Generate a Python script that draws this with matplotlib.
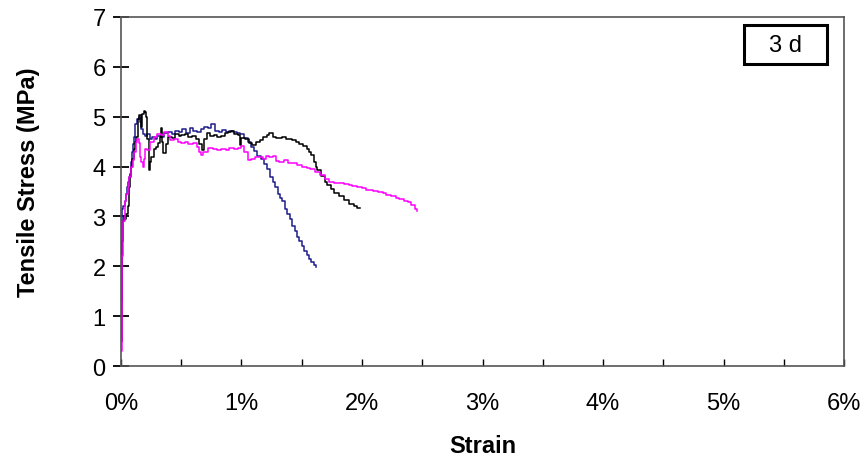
import matplotlib
matplotlib.use("Agg")
import matplotlib.pyplot as plt
from matplotlib.patches import Rectangle
from matplotlib.ticker import MultipleLocator, PercentFormatter

# strain in %, stress in MPa
blue_strain = [0.000, 0.005, 0.010, 0.020, 0.030, 0.040, 0.050, 0.060, 0.070, 0.080,
               0.090, 0.100, 0.110, 0.120, 0.135, 0.150, 0.160, 0.170, 0.180, 0.200,
               0.220, 0.240, 0.260, 0.280, 0.300, 0.330, 0.360, 0.390, 0.420, 0.450,
               0.480, 0.510, 0.540, 0.570, 0.600, 0.630, 0.660, 0.690, 0.720, 0.750,
               0.780, 0.810, 0.840, 0.870, 0.900, 0.930, 0.960, 0.990, 1.020, 1.050,
               1.080, 1.100, 1.130, 1.160, 1.190, 1.210, 1.240, 1.260, 1.280, 1.300,
               1.320, 1.340, 1.360, 1.380, 1.400, 1.420, 1.440, 1.460, 1.480, 1.500,
               1.520, 1.540, 1.560, 1.580, 1.600, 1.620]
blue_stress = [1.30, 2.60, 3.15, 3.20, 3.30, 3.45, 3.60, 3.70, 3.80, 4.10,
               4.30, 4.45, 4.60, 4.85, 4.95, 5.00, 4.90, 4.75, 4.65, 4.62,
               4.65, 4.55, 4.60, 4.55, 4.62, 4.60, 4.68, 4.70, 4.65, 4.72,
               4.70, 4.75, 4.68, 4.77, 4.72, 4.70, 4.75, 4.80, 4.78, 4.85,
               4.72, 4.70, 4.74, 4.70, 4.72, 4.70, 4.68, 4.65, 4.58, 4.50,
               4.40, 4.32, 4.22, 4.15, 4.05, 3.95, 3.80, 3.70, 3.60, 3.45,
               3.36, 3.30, 3.15, 3.05, 2.95, 2.80, 2.70, 2.58, 2.50, 2.40,
               2.30, 2.22, 2.15, 2.08, 2.03, 1.99]

black_strain = [0.005, 0.008, 0.012, 0.018, 0.025, 0.035, 0.045, 0.055, 0.065, 0.075,
                0.085, 0.095, 0.105, 0.115, 0.125, 0.140, 0.150, 0.165, 0.175, 0.190,
                0.200, 0.210, 0.220, 0.230, 0.240, 0.250, 0.270, 0.290, 0.310, 0.320,
                0.330, 0.340, 0.350, 0.370, 0.390, 0.420, 0.450, 0.480, 0.500, 0.530,
                0.560, 0.590, 0.620, 0.650, 0.670, 0.690, 0.710, 0.740, 0.770, 0.800,
                0.830, 0.860, 0.890, 0.910, 0.940, 0.970, 0.985, 1.000, 1.030, 1.060,
                1.090, 1.120, 1.150, 1.180, 1.210, 1.230, 1.260, 1.290, 1.310, 1.340,
                1.370, 1.400, 1.420, 1.450, 1.480, 1.510, 1.540, 1.560, 1.580, 1.600,
                1.620, 1.630, 1.660, 1.690, 1.710, 1.740, 1.770, 1.810, 1.850, 1.890,
                1.930, 1.960, 1.980]
black_stress = [0.50, 1.50, 2.50, 2.90, 3.00, 2.95, 3.05, 3.20, 3.60, 3.85,
                4.00, 4.15, 4.35, 4.50, 4.60, 4.95, 5.04, 4.80, 5.05, 5.12,
                5.10, 5.00, 4.55, 3.94, 4.10, 4.20, 4.35, 4.40, 4.47, 4.60,
                4.78, 4.50, 4.28, 4.45, 4.60, 4.58, 4.65, 4.62, 4.63, 4.66,
                4.60, 4.62, 4.55, 4.45, 4.34, 4.55, 4.67, 4.62, 4.64, 4.60,
                4.62, 4.68, 4.70, 4.72, 4.65, 4.63, 4.43, 4.58, 4.55, 4.48,
                4.44, 4.50, 4.54, 4.60, 4.64, 4.67, 4.60, 4.58, 4.57, 4.60,
                4.56, 4.55, 4.54, 4.50, 4.45, 4.41, 4.35, 4.30, 4.24, 4.10,
                4.00, 3.94, 3.82, 3.70, 3.64, 3.55, 3.48, 3.41, 3.32, 3.24,
                3.20, 3.17, 3.17]

pink_strain = [0.000, 0.005, 0.010, 0.020, 0.030, 0.040, 0.055, 0.070, 0.085, 0.100,
               0.110, 0.124, 0.135, 0.150, 0.160, 0.170, 0.180, 0.190, 0.200, 0.220,
               0.240, 0.270, 0.300, 0.330, 0.360, 0.390, 0.410, 0.440, 0.470, 0.500,
               0.530, 0.560, 0.600, 0.630, 0.650, 0.660, 0.680, 0.720, 0.760, 0.800,
               0.830, 0.870, 0.900, 0.940, 0.970, 1.000, 1.020, 1.050, 1.080, 1.110,
               1.150, 1.180, 1.200, 1.230, 1.260, 1.290, 1.310, 1.350, 1.390, 1.420,
               1.460, 1.500, 1.540, 1.570, 1.610, 1.650, 1.690, 1.730, 1.770, 1.810,
               1.850, 1.890, 1.920, 1.960, 2.000, 2.030, 2.060, 2.090, 2.130, 2.170,
               2.200, 2.240, 2.280, 2.310, 2.350, 2.380, 2.410, 2.440, 2.460]
pink_stress = [0.30, 1.20, 2.20, 2.90, 3.30, 3.45, 3.60, 3.80, 4.00, 4.13,
               4.30, 4.50, 4.55, 4.47, 4.20, 4.10, 4.00, 4.15, 4.35, 4.33,
               4.50, 4.60, 4.65, 4.63, 4.70, 4.62, 4.53, 4.55, 4.50, 4.47,
               4.50, 4.45, 4.47, 4.40, 4.30, 4.24, 4.30, 4.37, 4.35, 4.33,
               4.35, 4.34, 4.38, 4.35, 4.37, 4.41, 4.30, 4.14, 4.15, 4.20,
               4.20, 4.15, 4.22, 4.20, 4.22, 4.12, 4.10, 4.13, 4.08, 4.07,
               4.03, 4.00, 3.97, 3.95, 3.90, 3.84, 3.75, 3.70, 3.67, 3.67,
               3.66, 3.64, 3.62, 3.60, 3.57, 3.54, 3.54, 3.52, 3.50, 3.47,
               3.43, 3.40, 3.37, 3.35, 3.31, 3.28, 3.22, 3.15, 3.11]

plt.rcParams['font.family'] = ['Liberation Sans', 'DejaVu Sans']

fig = plt.figure(figsize=(8.64, 4.6), dpi=100)
ax = fig.add_axes([0.140, 0.202, 0.837, 0.759])

ax.plot(blue_strain, blue_stress, color='#1c1c8a', lw=1.1, drawstyle='steps-post')
ax.plot(black_strain, black_stress, color='black', lw=1.1, drawstyle='steps-post')
ax.plot(pink_strain, pink_stress, color='#ff00ff', lw=1.1, drawstyle='steps-post')

ax.set_xlim(0, 6)
ax.set_ylim(0, 7)
ax.xaxis.set_major_locator(MultipleLocator(1))
ax.xaxis.set_minor_locator(MultipleLocator(0.5))
ax.yaxis.set_major_locator(MultipleLocator(1))
ax.xaxis.set_major_formatter(PercentFormatter(xmax=100, decimals=0))

ax.tick_params(axis='x', which='both', direction='in', length=5, width=1,
               labelsize=17, pad=19, colors='black')
ax.tick_params(axis='y', direction='inout', length=12, width=1.3,
               labelsize=17, pad=5)
for s in ax.spines.values():
    s.set_color('#555555')
    s.set_linewidth(1.2)

ax.set_xlabel('Strain', fontsize=17, fontweight='bold', labelpad=14)
ax.set_ylabel('Tensile Stress (MPa)', fontsize=17, fontweight='bold')
ax.yaxis.set_label_coords(-0.112, 0.53)

# "3 d" label box
ax.add_patch(Rectangle((0.862, 0.865), 0.114, 0.112, transform=ax.transAxes,
                       fc='white', ec='black', lw=2.2, zorder=5))
ax.text(0.919, 0.921, '3 d', transform=ax.transAxes, fontsize=17,
        ha='center', va='center', zorder=6)

fig.savefig('out.png', dpi=100)
